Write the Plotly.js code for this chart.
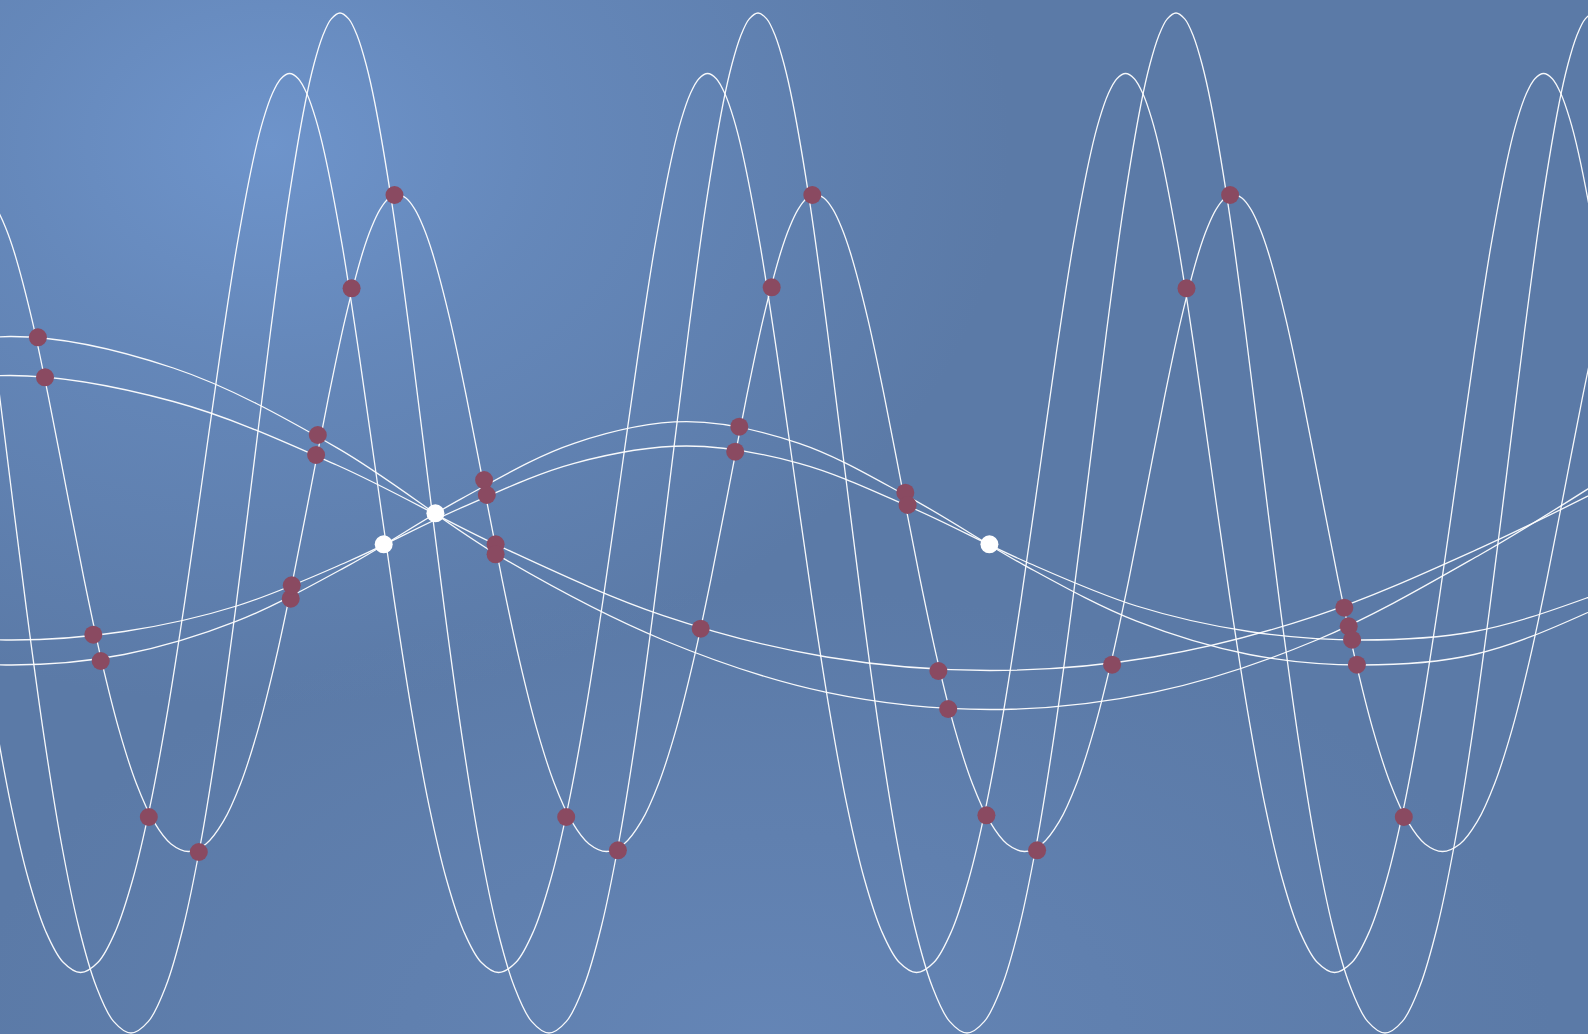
<!DOCTYPE html>
<html>
<head>
<meta charset="utf-8">
<script src="https://cdn.plot.ly/plotly-3.0.1.min.js"></script>
<style>
html, body { margin: 0; padding: 0; width: 1588px; height: 1034px; overflow: hidden; }
body {
  background:
    radial-gradient(ellipse 950px 720px at 17% 14%, rgba(110,148,203,1) 0%, rgba(104,140,192,0.75) 30%, rgba(92,122,168,0) 78%),
    radial-gradient(ellipse 1100px 620px at 48% 100%, rgba(101,134,183,0.9) 0%, rgba(101,134,183,0) 72%),
    #5b7aa7;
}
#chart { width: 1588px; height: 1034px; }
</style>
</head>
<body>
<div id="chart"></div>
<script>
// ---- fast wave 1 (tallest) ----
const wave1X = [-43.17, -25.75, -8.33, 9.08, 26.5, 43.92, 61.33, 78.75, 96.17, 113.58, 131, 148.42,
  165.83, 183.25, 200.67, 218.08, 235.5, 252.92, 270.33, 287.75, 305.17, 313.87, 322.58, 331.29,
  340, 348.71, 357.42, 366.13, 374.83, 392.25, 409.67, 427.08, 444.5, 461.92, 479.33, 496.75, 514.17, 531.58,
  549, 566.42, 583.83, 601.25, 618.67, 636.08, 653.5, 670.92, 688.33, 705.75, 723.17, 731.87, 740.58, 749.29,
  758, 766.71, 775.42, 784.13, 792.83, 810.25, 827.67, 845.08, 862.5, 879.92, 897.33, 914.75, 932.17, 949.58,
  967, 984.42, 1001.83, 1019.25, 1036.67, 1054.08, 1071.5, 1088.92, 1106.33, 1123.75, 1141.17, 1149.87, 1158.58, 1167.29,
  1176, 1184.71, 1193.42, 1202.13, 1210.83, 1228.25, 1245.67, 1263.08, 1280.5, 1297.92, 1315.33, 1332.75, 1350.17, 1367.58,
  1385, 1402.42, 1419.83, 1437.25, 1454.67, 1472.08, 1489.5, 1506.92, 1524.33, 1541.75, 1559.17, 1567.87, 1576.58, 1585.29,
  1594, 1602.71, 1611.42, 1620.13, 1628.83];
const wave1Y = [420, 317.3, 190, 51.1, -86.7, -212.9, -320, -404, -463.3, -498.4, -510, -498.4,
  -463.3, -404, -320, -212.9, -86.7, 51.1, 190, 317.3, 420, 458.5, 486.8, 504.1,
  510, 504.1, 486.8, 458.5, 420, 317.3, 190, 51.1, -86.7, -212.9, -320, -404, -463.3, -498.4,
  -510, -498.4, -463.3, -404, -320, -212.9, -86.7, 51.1, 190, 317.3, 420, 458.5, 486.8, 504.1,
  510, 504.1, 486.8, 458.5, 420, 317.3, 190, 51.1, -86.7, -212.9, -320, -404, -463.3, -498.4,
  -510, -498.4, -463.3, -404, -320, -212.9, -86.7, 51.1, 190, 317.3, 420, 458.5, 486.8, 504.1,
  510, 504.1, 486.8, 458.5, 420, 317.3, 190, 51.1, -86.7, -212.9, -320, -404, -463.3, -498.4,
  -510, -498.4, -463.3, -404, -320, -212.9, -86.7, 51.1, 190, 317.3, 420, 458.5, 486.8, 504.1,
  510, 504.1, 486.8, 458.5, 420];

// ---- fast wave 2 ----
const wave2X = [-58.73, -41.32, -23.9, -6.48, 10.93, 28.35, 45.77, 63.18, 80.6, 98.02,
  115.43, 132.85, 150.27, 167.68, 185.1, 202.52, 219.93, 237.35, 254.77, 263.47, 272.18, 280.89,
  289.6, 298.31, 307.02, 315.73, 324.43, 341.85, 359.27, 376.68, 394.1, 411.52, 428.93, 446.35, 463.77, 481.18,
  498.6, 516.02, 533.43, 550.85, 568.27, 585.68, 603.1, 620.52, 637.93, 655.35, 672.77, 681.47, 690.18, 698.89,
  707.6, 716.31, 725.02, 733.73, 742.43, 759.85, 777.27, 794.68, 812.1, 829.52, 846.93, 864.35, 881.77, 899.18,
  916.6, 934.02, 951.43, 968.85, 986.27, 1003.68, 1021.1, 1038.52, 1055.93, 1073.35, 1090.77, 1099.47, 1108.18, 1116.89,
  1125.6, 1134.31, 1143.02, 1151.73, 1160.43, 1177.85, 1195.27, 1212.68, 1230.1, 1247.52, 1264.93, 1282.35, 1299.77, 1317.18,
  1334.6, 1352.02, 1369.43, 1386.85, 1404.27, 1421.68, 1439.1, 1456.52, 1473.93, 1491.35, 1508.77, 1517.47, 1526.18, 1534.89,
  1543.6, 1552.31, 1561.02, 1569.73, 1578.43, 1595.85, 1613.27];
const wave2Y = [167.4, 45, -76.4, -187.6, -282.1, -356, -408.4, -439.3, -449.5, -439.3,
  -408.4, -356, -282.1, -187.6, -76.4, 45, 167.4, 279.6, 370.2, 404.1, 429, 444.3,
  449.5, 444.3, 429, 404.1, 370.2, 279.6, 167.4, 45, -76.4, -187.6, -282.1, -356, -408.4, -439.3,
  -449.5, -439.3, -408.4, -356, -282.1, -187.6, -76.4, 45, 167.4, 279.6, 370.2, 404.1, 429, 444.3,
  449.5, 444.3, 429, 404.1, 370.2, 279.6, 167.4, 45, -76.4, -187.6, -282.1, -356, -408.4, -439.3,
  -449.5, -439.3, -408.4, -356, -282.1, -187.6, -76.4, 45, 167.4, 279.6, 370.2, 404.1, 429, 444.3,
  449.5, 444.3, 429, 404.1, 370.2, 279.6, 167.4, 45, -76.4, -187.6, -282.1, -356, -408.4, -439.3,
  -449.5, -439.3, -408.4, -356, -282.1, -187.6, -76.4, 45, 167.4, 279.6, 370.2, 404.1, 429, 444.3,
  449.5, 444.3, 429, 404.1, 370.2, 279.6, 167.4];

// ---- fast wave 3 (the one carrying the markers) ----
const wave3X = [-55.33, -46.63, -37.92, -29.21,
  -20.5, -11.79, -3.08, 5.63, 14.33, 31.75, 49.17, 66.58, 84, 101.42, 118.83, 136.25, 153.67, 171.08,
  188.5, 205.92, 223.33, 240.75, 258.17, 275.58, 293, 310.42, 327.83, 345.25, 362.67, 371.37, 380.08, 388.79,
  397.5, 406.21, 414.92, 423.63, 432.33, 449.75, 467.17, 484.58, 502, 519.42, 536.83, 554.25, 571.67, 589.08,
  606.5, 623.92, 641.33, 658.75, 676.17, 693.58, 711, 728.42, 745.83, 763.25, 780.67, 789.37, 798.08, 806.79,
  815.5, 824.21, 832.92, 841.63, 850.33, 867.75, 885.17, 902.58, 920, 937.42, 954.83, 972.25, 989.67, 1007.08,
  1024.5, 1041.92, 1059.33, 1076.75, 1094.17, 1111.58, 1129, 1146.42, 1163.83, 1181.25, 1198.67, 1207.37, 1216.08, 1224.79,
  1233.5, 1242.21, 1250.92, 1259.63, 1268.33, 1285.75, 1303.17, 1320.58, 1338, 1355.42, 1372.83, 1390.25, 1407.67, 1425.08,
  1442.5, 1459.92, 1477.33, 1494.75, 1512.17, 1529.58, 1547, 1564.42, 1581.83, 1599.25, 1616.67];
const wave3Y = [270.5, 295.3, 313.6, 324.7,
  328.5, 324.7, 313.6, 295.3, 270.5, 204.4, 122.4, 32.9, -55.8, -137.1, -206.1, -260.2, -298.4, -321,
  -328.5, -321, -298.4, -260.2, -206.1, -137.1, -55.8, 32.9, 122.4, 204.4, 270.5, 295.3, 313.6, 324.7,
  328.5, 324.7, 313.6, 295.3, 270.5, 204.4, 122.4, 32.9, -55.8, -137.1, -206.1, -260.2, -298.4, -321,
  -328.5, -321, -298.4, -260.2, -206.1, -137.1, -55.8, 32.9, 122.4, 204.4, 270.5, 295.3, 313.6, 324.7,
  328.5, 324.7, 313.6, 295.3, 270.5, 204.4, 122.4, 32.9, -55.8, -137.1, -206.1, -260.2, -298.4, -321,
  -328.5, -321, -298.4, -260.2, -206.1, -137.1, -55.8, 32.9, 122.4, 204.4, 270.5, 295.3, 313.6, 324.7,
  328.5, 324.7, 313.6, 295.3, 270.5, 204.4, 122.4, 32.9, -55.8, -137.1, -206.1, -260.2, -298.4, -321,
  -328.5, -321, -298.4, -260.2, -206.1, -137.1, -55.8, 32.9, 122.4, 204.4, 270.5];

// ---- slow waves A and B ----
const slowABX = [-153.3, 10, 173.3, 336.7, 500, 663.3, 826.7, 990, 1153.3, 1316.7, 1480, 1643.3];
const slowAY = [153.6, 186.5, 155, 75.4, -33.4, -117, -169.4, -186.5, -169.4, -117, -31.7, 69.5];
const slowBY = [121.5, 147.5, 121.5, 58, -23.4, -92.6, -134, -147.5, -134, -92.6, -25.1, 54.9];

// ---- slow waves C and D ----
const slowCDX = [-100.9, 11.6, 124.1, 236.6, 349.1, 461.6, 574.1, 686.6, 799.1, 911.6, 1024.1,
  1136.6, 1249.1, 1361.6, 1474.1, 1586.6, 1699.1];
const slowCY = [-131.5, -142, -131.5, -98.2, -42.1, 24.4, 79.7, 101.3, 79.7, 24.4, -42.1,
  -98.2, -131.5, -142, -131.5, -90, -30];
const slowDY = [-108.5, -117, -108.5, -83, -38, 15.3, 59.7, 77, 59.7, 15.3, -38,
  -83, -108.5, -117, -108.5, -75, -27];

// ---- markers ----
const dotX = [37.9, 45, 93.3, 100.7, 148.8, 198.8, 290.7, 291.8, 316.1, 317.8, 351.6, 394.5,
  484.1, 486.8, 495.6, 495.6, 566.2, 617.9, 700.7, 735.2, 739.3, 771.7, 812.3,
  905.3, 907.6, 938.4, 948.2, 986.4, 1037.1, 1112.1, 1186.5, 1230.1,
  1344.3, 1348.7, 1352.1, 1356.9, 1403.8];
const dotY = [185.7, 145.7, -111.7, -138, -294, -329, -75.7, -62.3, 68, 88, 234.7, 328,
  43, 28, -21.3, -31.3, -294, -327.3, -105.7, 71.3, 96.3, 235.7, 328,
  30.3, 18, -148, -186, -292.3, -327.3, -141.7, 234.7, 328,
  -84.7, -103.3, -116.7, -141.7, -294];
const crossX = [383.7, 435.4, 989.4];
const crossY = [-21.3, 9.7, -21.3];

const lineStyle = { color: 'rgba(255,255,255,0.95)', width: 1.3, shape: 'spline', smoothing: 1 };
function lineTrace(x, y) {
  return { x: x, y: y, type: 'scatter', mode: 'lines', line: lineStyle, hoverinfo: 'skip', showlegend: false };
}

const data = [
  lineTrace(wave1X, wave1Y),
  lineTrace(wave2X, wave2Y),
  lineTrace(wave3X, wave3Y),
  lineTrace(slowABX, slowAY),
  lineTrace(slowABX, slowBY),
  lineTrace(slowCDX, slowCY),
  lineTrace(slowCDX, slowDY),
  { x: dotX, y: dotY, type: 'scatter', mode: 'markers',
    marker: { color: '#8a4a61', size: 18, line: { width: 0 } }, hoverinfo: 'skip', showlegend: false },
  { x: crossX, y: crossY, type: 'scatter', mode: 'markers',
    marker: { color: '#ffffff', size: 18, line: { width: 0 } }, hoverinfo: 'skip', showlegend: false }
];

const axisBase = { visible: false, showgrid: false, zeroline: false, showticklabels: false, fixedrange: true };
const layout = {
  width: 1588, height: 1034,
  margin: { l: 0, r: 0, t: 0, b: 0, pad: 0 },
  paper_bgcolor: 'rgba(0,0,0,0)',
  plot_bgcolor: 'rgba(0,0,0,0)',
  xaxis: Object.assign({}, axisBase, { range: [0, 1588] }),
  yaxis: Object.assign({}, axisBase, { range: [-511, 523] }),
  showlegend: false,
  hovermode: false
};

Plotly.newPlot('chart', data, layout, { displayModeBar: false, staticPlot: true });
</script>
</body>
</html>
